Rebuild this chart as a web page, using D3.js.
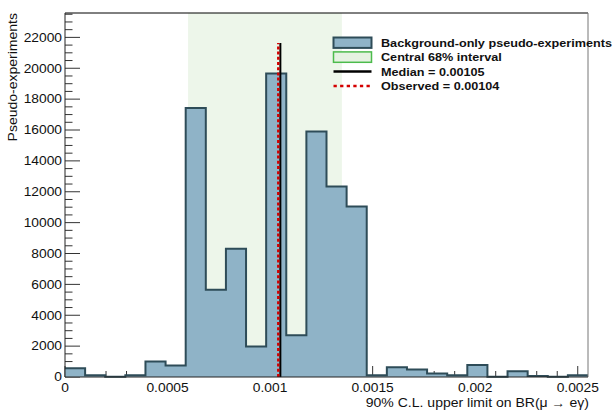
<!DOCTYPE html>
<html>
<head>
<meta charset="utf-8">
<script src="https://cdn.jsdelivr.net/npm/d3@7"></script>
<style>
  body { margin: 0; background: #fff; }
  text { font-family: "Liberation Sans", Arial, sans-serif; fill: #111; }
</style>
</head>
<body>
<script>
// Histogram of 90% C.L. upper limits (26 bins between 0 and 0.00255)
var binCounts = [560, 110, 20, 110, 1010, 740, 17420, 5650, 8300, 1980,
                 19660, 2700, 15900, 12340, 11050, 110, 630, 480, 220, 110,
                 780, 10, 370, 65, 20, 110];
var xRange = [0, 0.00255];
var yMax = 23580;

var bandRange = [0.0006, 0.00135];   // central 68% interval
var medianValue = 0.00105;
var observedValue = 0.00104;
var lineTop = 21630;                 // height the two vertical lines reach

var xTickValues = [0, 0.0005, 0.001, 0.0015, 0.002, 0.0025];
var xTickLabels = ["0", "0.0005", "0.001", "0.0015", "0.002", "0.0025"];
var yTickValues = [0, 2000, 4000, 6000, 8000, 10000, 12000, 14000, 16000, 18000, 20000, 22000];
var yTickLabels = ["0", "2000", "4000", "6000", "8000", "10000", "12000", "14000", "16000", "18000", "20000", "22000"];

var legendLabels = ["Background-only pseudo-experiments", "Central 68% interval",
                    "Median = 0.00105", "Observed = 0.00104"];

var fillColor = "#8fb3c7", edgeColor = "#2e4c58", bandColor = "#edf6ea";

var margin = {top: 13, right: 26, bottom: 36, left: 65},
    width = 614 - margin.left - margin.right,
    height = 413 - margin.top - margin.bottom;

var svg = d3.select("body").append("svg")
    .attr("width", 614)
    .attr("height", 413)
  .append("g")
    .attr("transform", "translate(" + margin.left + "," + margin.top + ")");

var x = d3.scaleLinear().domain(xRange).range([0, width]);
var y = d3.scaleLinear().domain([0, yMax]).range([height, 0]);

// text that is a bit wider than the font, like the ROOT png output
function addText(g, tx, ty, txt, sx, anchor) {
  return g.append("text")
    .attr("transform", "translate(" + tx + "," + ty + ") scale(" + sx + ",1)")
    .attr("text-anchor", anchor)
    .text(txt);
}

// green band
svg.append("rect")
    .attr("x", x(bandRange[0]))
    .attr("y", 0)
    .attr("width", x(bandRange[1]) - x(bandRange[0]))
    .attr("height", height)
    .attr("fill", bandColor);

// y ticks (major 2000, minor 500)
var yMinor = d3.range(0, yMax, 500);
svg.selectAll(".ytick")
    .data(yMinor)
  .enter().append("line")
    .attr("x1", 0)
    .attr("x2", function(d) { return d % 2000 === 0 ? 15 : 7.5; })
    .attr("y1", function(d) { return y(d); })
    .attr("y2", function(d) { return y(d); })
    .attr("stroke", "#333");

// x ticks (major 0.0005, minor 0.0001)
var xMinor = d3.range(0, 26).map(function(i) { return i * 0.0001; });
svg.selectAll(".xtick")
    .data(xMinor)
  .enter().append("line")
    .attr("x1", function(d) { return x(d); })
    .attr("x2", function(d) { return x(d); })
    .attr("y1", height)
    .attr("y2", function(d, i) { return i % 5 === 0 ? height - 11 : height - 6; })
    .attr("stroke", "#333");

// histogram
var binWidth = (xRange[1] - xRange[0]) / binCounts.length;
var steps = binCounts.map(function(c, i) { return [xRange[0] + i * binWidth, c]; });
steps.push([xRange[1], binCounts[binCounts.length - 1]]);

svg.append("path")
    .datum(steps)
    .attr("fill", fillColor)
    .attr("d", d3.area()
        .x(function(d) { return x(d[0]); })
        .y0(y(0))
        .y1(function(d) { return y(d[1]); })
        .curve(d3.curveStepAfter));

svg.append("path")
    .datum(steps)
    .attr("fill", "none")
    .attr("stroke", edgeColor)
    .attr("stroke-width", 2)
    .attr("d", d3.line()
        .x(function(d) { return x(d[0]); })
        .y(function(d) { return y(d[1]); })
        .curve(d3.curveStepAfter));

// median and observed
svg.append("line")
    .attr("x1", x(medianValue)).attr("x2", x(medianValue))
    .attr("y1", y(0)).attr("y2", y(lineTop))
    .attr("stroke", "#000")
    .attr("stroke-width", 2);

svg.append("line")
    .attr("x1", x(observedValue)).attr("x2", x(observedValue))
    .attr("y1", y(0)).attr("y2", y(lineTop))
    .attr("stroke", "#d40000")
    .attr("stroke-width", 2.5)
    .attr("stroke-dasharray", "3,2.2");

// frame
svg.append("line").attr("x1", 0).attr("x2", width).attr("y1", 0).attr("y2", 0)
    .attr("stroke", "#000");
svg.append("line").attr("x1", width).attr("x2", width).attr("y1", 0).attr("y2", height)
    .attr("stroke", "#777");
svg.append("line").attr("x1", 0).attr("x2", 0).attr("y1", 0).attr("y2", height)
    .attr("stroke", "#222");
svg.append("line").attr("x1", 0).attr("x2", width).attr("y1", height).attr("y2", height)
    .attr("stroke", "#222");

// tick labels
var tickFont = 12;
yTickValues.forEach(function(v, i) {
  addText(svg, -3, y(v) + 4.3, yTickLabels[i], 1.15, "end")
    .style("font-size", tickFont + "px");
});
xTickValues.forEach(function(v, i) {
  addText(svg, x(v), height + 15, xTickLabels[i], 1.15, "middle")
    .style("font-size", tickFont + "px");
});

// axis titles
addText(svg, width + 1, height + 30, "90% C.L. upper limit on BR(\u03bc \u2192 e\u03b3)", 1.17, "end")
    .style("font-size", "12px");

svg.append("text")
    .attr("transform", "translate(-48,0) rotate(-90) scale(1.15,1)")
    .attr("text-anchor", "end")
    .style("font-size", "12.2px")
    .text("Pseudo-experiments");

// legend
var legend = svg.append("g")
    .attr("transform", "translate(" + (333.5 - margin.left) + "," + (42.7 - margin.top) + ")");
var rowGap = 14.4;

legend.append("rect")
    .attr("x", 0).attr("y", -5.2).attr("width", 38).attr("height", 10.4)
    .attr("fill", fillColor).attr("stroke", edgeColor).attr("stroke-width", 2);
legend.append("rect")
    .attr("x", 0).attr("y", rowGap - 5.2).attr("width", 38).attr("height", 10.4)
    .attr("fill", "#e6f2e2").attr("stroke", "#4cbb4c").attr("stroke-width", 1.5);
legend.append("line")
    .attr("x1", 0).attr("x2", 38).attr("y1", 2 * rowGap).attr("y2", 2 * rowGap)
    .attr("stroke", "#000").attr("stroke-width", 2.5);
legend.append("line")
    .attr("x1", 0).attr("x2", 38).attr("y1", 3 * rowGap).attr("y2", 3 * rowGap)
    .attr("stroke", "#d40000").attr("stroke-width", 2.5)
    .attr("stroke-dasharray", "3.3,3.3");

legendLabels.forEach(function(t, i) {
  addText(legend, 47.5, i * rowGap + 4.2, t, 1.09, "start")
    .style("font-size", "11.6px")
    .style("font-weight", "bold");
});
</script>
</body>
</html>
